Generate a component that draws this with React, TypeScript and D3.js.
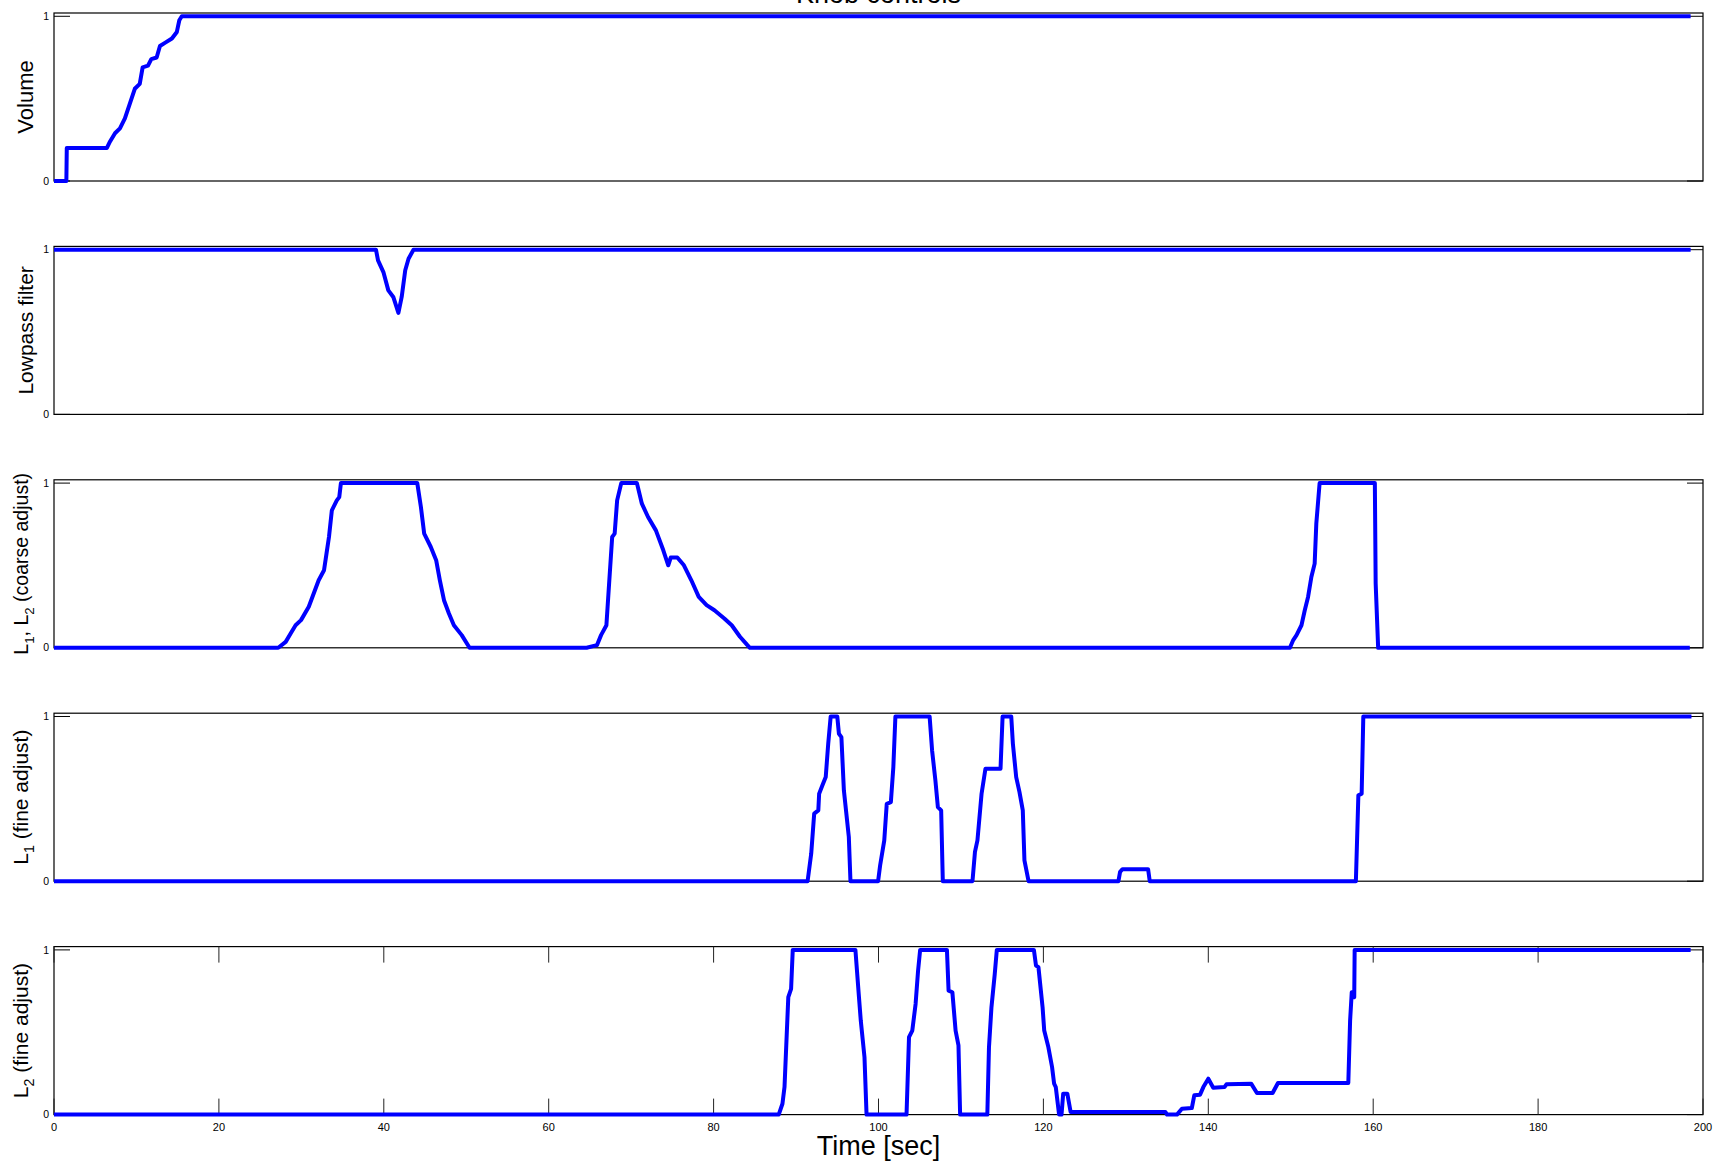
import React from 'react';
import * as d3 from 'd3';

// time [sec], knob value
const volume: [number, number][] = [
  [0, 0], [1.5, 0], [1.55, 0.2], [6.4, 0.2], [6.8, 0.24], [7.4, 0.29], [8.0, 0.32], [8.6, 0.38],
  [9.2, 0.47], [9.8, 0.56], [10.4, 0.59], [10.75, 0.69], [11.4, 0.7], [11.8, 0.74], [12.45, 0.75],
  [12.85, 0.82], [13.5, 0.84], [14.3, 0.865], [14.9, 0.905], [15.2, 0.976], [15.5, 1], [198.5, 1],
];

const lowpass: [number, number][] = [
  [0, 1], [39.05, 1], [39.3, 0.935], [39.95, 0.864], [40.55, 0.753], [41.15, 0.713], [41.77, 0.616],
  [42.17, 0.713], [42.6, 0.875], [43.0, 0.945], [43.6, 1], [198.5, 1],
];

const coarse: [number, number][] = [
  [0, 0], [27.2, 0], [28.1, 0.036], [28.7, 0.087], [29.3, 0.137], [29.96, 0.168], [30.9, 0.249],
  [31.5, 0.33], [32.1, 0.41], [32.75, 0.471], [33.05, 0.572], [33.35, 0.673], [33.7, 0.835],
  [34.3, 0.895], [34.6, 0.915], [34.8, 1], [44.06, 1], [44.5, 0.855], [44.9, 0.693], [45.7, 0.612],
  [46.35, 0.532], [46.8, 0.41], [47.3, 0.289], [47.9, 0.208], [48.5, 0.137], [49.45, 0.077],
  [50.4, 0], [64.6, 0], [65.85, 0.016], [66.35, 0.077], [67.0, 0.137], [67.3, 0.37], [67.7, 0.673],
  [68.0, 0.693], [68.3, 0.895], [68.8, 1], [70.7, 1], [71.3, 0.875], [72.05, 0.794], [73.0, 0.713],
  [73.9, 0.592], [74.5, 0.501], [74.8, 0.548], [75.6, 0.548], [76.4, 0.501], [77.3, 0.41],
  [78.2, 0.309], [79.15, 0.259], [80.1, 0.228], [81.3, 0.178], [82.2, 0.137], [83.2, 0.067],
  [84.1, 0.016], [84.4, 0], [149.9, 0], [150.3, 0.047], [150.7, 0.077], [151.3, 0.137],
  [151.7, 0.228], [152.1, 0.309], [152.5, 0.43], [152.9, 0.511], [153.1, 0.754], [153.5, 1],
  [160.2, 1], [160.3, 0.39], [160.6, 0], [198.4, 0],
];

const fine1: [number, number][] = [
  [0, 0], [91.4, 0], [91.84, 0.168], [92.2, 0.41], [92.7, 0.43], [92.8, 0.531], [93.2, 0.582],
  [93.6, 0.632], [93.9, 0.834], [94.2, 1], [95.0, 1], [95.2, 0.895], [95.5, 0.875], [95.8, 0.552],
  [96.4, 0.269], [96.6, 0], [99.95, 0], [100.2, 0.097], [100.7, 0.248], [101.0, 0.47], [101.5, 0.48],
  [101.8, 0.693], [102.05, 1], [106.2, 1], [106.5, 0.794], [106.9, 0.612], [107.2, 0.45],
  [107.6, 0.43], [107.8, 0], [111.4, 0], [111.7, 0.178], [112.0, 0.248], [112.5, 0.531],
  [112.97, 0.683], [114.8, 0.683], [115.05, 1], [116.1, 1], [116.3, 0.834], [116.7, 0.632],
  [117.1, 0.541], [117.5, 0.43], [117.7, 0.127], [118.2, 0], [129.1, 0], [129.3, 0.057],
  [129.6, 0.073], [132.7, 0.073], [132.9, 0], [157.9, 0], [158.2, 0.521], [158.6, 0.531],
  [158.8, 1], [198.6, 1],
];

const fine2: [number, number][] = [
  [0, 0], [87.9, 0], [88.35, 0.066], [88.6, 0.167], [89.06, 0.713], [89.4, 0.764], [89.6, 1],
  [97.2, 1], [97.6, 0.733], [97.85, 0.571], [98.3, 0.349], [98.55, 0], [103.4, 0], [103.7, 0.47],
  [104.1, 0.51], [104.5, 0.672], [104.8, 0.874], [105.05, 1], [108.3, 1], [108.5, 0.753],
  [108.96, 0.743], [109.35, 0.51], [109.7, 0.42], [109.9, 0], [113.2, 0], [113.4, 0.41],
  [113.7, 0.652], [114.1, 0.854], [114.35, 1], [118.85, 1], [119.1, 0.905], [119.4, 0.895],
  [119.9, 0.652], [120.1, 0.51], [120.6, 0.41], [121.05, 0.289], [121.3, 0.188], [121.5, 0.167],
  [121.9, 0], [122.2, 0], [122.4, 0.127], [122.9, 0.127], [123.3, 0.016], [134.8, 0.016],
  [135.0, 0], [136.2, 0], [136.8, 0.036], [138.0, 0.04], [138.3, 0.117], [139.0, 0.121],
  [139.4, 0.167], [140.0, 0.218], [140.6, 0.163], [141.96, 0.167], [142.2, 0.184], [145.2, 0.188],
  [145.9, 0.131], [147.8, 0.131], [148.45, 0.192], [156.98, 0.192], [157.2, 0.572], [157.4, 0.743],
  [157.7, 0.713], [157.75, 1], [198.5, 1],
];

const series = [volume, lowpass, coarse, fine1, fine2];

// label pieces: [text, isSubscript]
const yLabels: [string, boolean][][] = [
  [['Volume', false]],
  [['Lowpass filter', false]],
  [['L', false], ['1', true], [', L', false], ['2', true], [' (coarse adjust)', false]],
  [['L', false], ['1', true], [' (fine adjust)', false]],
  [['L', false], ['2', true], [' (fine adjust)', false]],
];
const labelSizes = [22, 21, 19.5, 21, 21];

const yTicks = [0, 1];
const xTicks = d3.range(0, 201, 20);

const W = 1713;
const H = 1165;
const left = 54;
const right = 1703;
const panelH = 168;
const panelStep = 233.4;
const firstTop = 13;
const tickLen = 16;
const font = 'Helvetica, "Liberation Sans", Arial, sans-serif';

export default function App() {
  const x = d3.scaleLinear().domain([0, 200]).range([left, right]);

  const panels = series.map((data, i) => {
    const top = firstTop + i * panelStep;
    const y = d3.scaleLinear().domain([0, 1.02]).range([top + panelH, top]);
    const line = d3.line<[number, number]>()
      .x(d => x(d[0]))
      .y(d => y(d[1]));
    const isLast = i === series.length - 1;
    const hasSub = yLabels[i].some(p => p[1]);
    const labelX = hasSub ? 28 : 33;
    const labelY = top + panelH / 2;
    const fs = labelSizes[i];

    let shifted = false;
    const parts = yLabels[i].map(([txt, sub], k) => {
      let dy = 0;
      if (sub && !shifted) { dy = 6; shifted = true; }
      else if (!sub && shifted) { dy = -6; shifted = false; }
      return (
        <tspan key={k} dy={dy} fontSize={sub ? fs * 0.68 : fs}>{txt}</tspan>
      );
    });

    return (
      <g key={'panel' + i}>
        <rect x={left} y={top} width={right - left} height={panelH}
          fill="white" stroke="#000" strokeWidth={1.2} />
        {yTicks.map(t => (
          <g key={'yt' + t}>
            <line x1={left} x2={left + tickLen} y1={y(t)} y2={y(t)} stroke="#000" strokeWidth={1} />
            <line x1={right} x2={right - tickLen} y1={y(t)} y2={y(t)} stroke="#000" strokeWidth={1} />
            <text x={left - 5} y={y(t)} dy="0.35em" textAnchor="end" fontSize={10.5}
              fontFamily={font} fill="#000">{t}</text>
          </g>
        ))}
        {isLast && xTicks.map(t => (
          <g key={'xt' + t}>
            <line x1={x(t)} x2={x(t)} y1={top} y2={top + tickLen} stroke="#222" strokeWidth={1} />
            <line x1={x(t)} x2={x(t)} y1={top + panelH} y2={top + panelH - tickLen} stroke="#222" strokeWidth={1} />
            <text x={x(t)} y={top + panelH + 16} textAnchor="middle" fontSize={11}
              fontFamily={font} fill="#000">{t}</text>
          </g>
        ))}
        <path d={line(data) || ''} fill="none" stroke="#0000ff" strokeWidth={4}
          strokeLinejoin="round" strokeLinecap="butt" />
        <text transform={`translate(${labelX},${labelY}) rotate(-90)`} textAnchor="middle"
          fontFamily={font} fontSize={fs} fill="#000">
          {parts}
        </text>
      </g>
    );
  });

  return (
    <svg width={W} height={H} style={{ position: 'absolute', left: 0, top: 0, background: 'white' }}>
      <rect width={W} height={H} fill="white" />
      {/* the title sits above the figure's top edge in the original, so only its foot shows */}
      <text x={(left + right) / 2} y={3} textAnchor="middle" fontFamily={font} fontSize={27} fill="#000">
        Knob controls
      </text>
      {panels}
      <text x={(left + right) / 2} y={1155} textAnchor="middle" fontFamily={font} fontSize={27} fill="#000">
        Time [sec]
      </text>
    </svg>
  );
}
